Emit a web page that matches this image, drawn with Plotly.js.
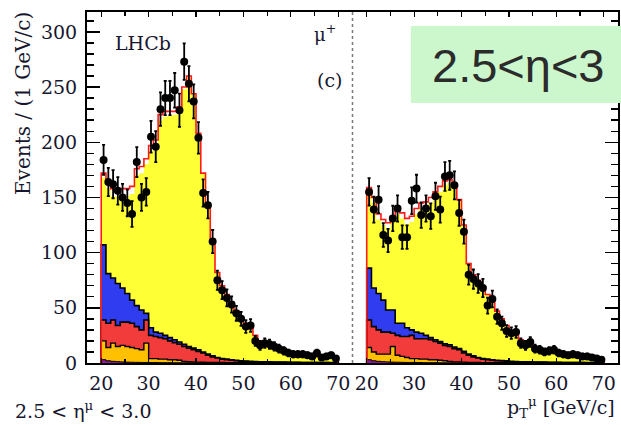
<!DOCTYPE html>
<html><head><meta charset="utf-8">
<script src="https://cdn.plot.ly/plotly-3.0.1.min.js"></script>
<style>body{margin:0;background:#fff}#chart{width:621px;height:425px}</style>
</head><body><div id="chart"></div>
<script>
// bin lower edges (GeV/c), 1 GeV bins
const binLow = [20,21,22,23,24,25,26,27,28,29,30,31,32,33,34,35,36,37,38,39,40,41,42,43,44,45,46,47,48,49,50,51,52,53,54,55,56,57,58,59,60,61,62,63,64,65,66,67,68,69];
const xTickVals = [20,30,40,50,60,70];
const xTickText = ['20','30','40','50','60','70'];

// ---- left panel (first pT panel) ----
const leftData = [184,164,162,156,150,145,135,182,150,155,205,196,230,240,240,247,229,273,253,237,204,154,143,110,75,66,59,53,45,40,33,34,20,16,18,17,15,13,11,9,8,8,8,7,6,9,5,6,7,4];
const leftTotal = [172,165,158,158,158,158,160,176,178,185,197,202,225,228,228,228,232,250,260,244,208,172,145,112,82,70,62,55,47,41,36,31,25,20,17,15,13,12,11,10,9,8,7.5,7,6.5,6,5.5,5,4.5,4];
const leftYellowTop = [168,158,151,151,151,151,153,170,172,180,192,197,220,223,224,225,229,248,258,243,208,172,145,112,82,70,62,55,47,41,36,31,25,20,17,15,13,12,11,10,9,8,7.5,7,6.5,6,5.5,5,4.5,4];
const leftBlueTop = [107,81,77,72,68,63,57,52,48,45,32,28,27,25,23,21,19,17,15,13.5,12,10,8,6.5,5,4,3.5,3,2.5,2,1.8,1.5,1.3,1.2,1,1,0.9,0.8,0.8,0.7,0.6,0.6,0.5,0.5,0.5,0.4,0.4,0.4,0.3,0.3];
const leftRedTop = [39,36,39,34,37,37,36,33,30,39,25,24,23,22,20,18.5,17,15,13.5,12,10.5,9,7,5.5,4.5,3.5,3,2.5,2,1.6,1.4,1.2,1.1,1,0.9,0.8,0.7,0.7,0.6,0.6,0.5,0.5,0.4,0.4,0.4,0.3,0.3,0.3,0.2,0.2];
const leftOrangeTop = [20,14,18,15,16,15,14,13,12,18,4,4,3.5,3.5,3,3,2.5,1.5,1.2,1,0.8,0.7,0.6,0.5,0.4,0.4,0.3,0.3,0.2,0.2,0.2,0.2,0.2,0.2,0.2,0.2,0.2,0.1,0.1,0.1,0.1,0.1,0.1,0.1,0.1,0.1,0.1,0.1,0.1,0.1];
const leftPurpleTop = [3,2,1.5,1.2,1,0.8,0.7,0.6,0.5,0.5,0.4,0.4,0.3,0.3,0.3,0.2,0.2,0.2,0.2,0.2,0.1,0.1,0.1,0.1,0.1,0.1,0.1,0.1,0.1,0.1,0.1,0.1,0.1,0.1,0.1,0.1,0.1,0.1,0.1,0.1,0.1,0.1,0.1,0.1,0.1,0.1,0.1,0.1,0.1,0.1];

// ---- right panel (second pT panel) ----
const rightData = [155,139,148,116,111,131,140,114,114,147,158,134,140,133,151,139,169,170,161,136,119,80,76,72,68,52,58,42,36,29,27,28,18,16,19,13,12,10,11,12,9,8,7,8,7,6,6,5,4,3];
const rightTotal = [159,150,135,130,127,133,140,136,131,133,140,145,146,150,155,160,165,166,160,148,125,90,80,75,69,62,55,47,40,34,29,25,21,18,16,14,12.5,11,10,9,8.5,8,7.5,7,6.5,6,5,4.5,4,3];
const rightYellowTop = [156,145,130,125,122,128,135,131,126,128,135,140,141,145,150,155,161,163,158,147,125,90,80,75,69,62,55,47,40,34,29,25,21,18,16,14,12.5,11,10,9,8.5,8,7.5,7,6.5,6,5,4.5,4,3];
const rightBlueTop = [86,68,63,57,48,48,36,36,32,30,28,27,25,23,21,19.5,17.5,16.5,14.5,13,10.5,8,6.5,5,4,3.5,3,2.5,2.2,2,1.6,1.4,1.2,1.1,1,0.9,0.8,0.8,0.7,0.6,0.6,0.5,0.5,0.5,0.4,0.4,0.4,0.3,0.3,0.3];
const rightRedTop = [39,33,30,28,28,27,25,24,24,25,22,22,22,21,19.5,18,16,15,13,12,9,7,5.5,4.5,3.5,3,2.5,2,1.8,1.5,1.2,1.1,1,0.9,0.8,0.7,0.6,0.6,0.5,0.5,0.4,0.4,0.4,0.3,0.3,0.3,0.2,0.2,0.2,0.2];
const rightOrangeTop = [14,10,8,8,8,15,7,6,5,4,4,3.5,3.5,3,3,2.5,2,1.5,1,1,0.8,0.6,0.5,0.4,0.3,0.2,0.2,0.2,0.2,0.2,0.2,0.2,0.2,0.1,0.1,0.1,0.1,0.1,0.1,0.1,0.1,0.1,0.1,0.1,0.1,0.1,0.1,0.1,0.1,0.1];
const rightPurpleTop = [3,2,1.5,1.2,1,0.8,0.7,0.6,0.5,0.5,0.4,0.4,0.3,0.3,0.3,0.2,0.2,0.2,0.2,0.2,0.1,0.1,0.1,0.1,0.1,0.1,0.1,0.1,0.1,0.1,0.1,0.1,0.1,0.1,0.1,0.1,0.1,0.1,0.1,0.1,0.1,0.1,0.1,0.1,0.1,0.1,0.1,0.1,0.1,0.1];

const COL = {yellow:'#ffff36', blue:'#2f3cf0', red:'#f23c3c', orange:'#ffc000', purple:'#8a1a9a', total:'#ff1a1a'};

function stepXY(levels){
  const last = binLow[binLow.length-1] + 1;
  return {x:[binLow[0]].concat(binLow,[last,last]), y:[0].concat(levels,[levels[levels.length-1],0])};
}
function fillTrace(levels, color, lineColor, lw, xa, ya){
  const s = stepXY(levels);
  return {type:'scatter', mode:'lines', x:s.x, y:s.y, xaxis:xa, yaxis:ya, fill:'tozeroy', fillcolor:color,
    line:{shape:'hv', color:lineColor, width:lw}, hoverinfo:'skip', showlegend:false};
}
function panel(d, xa, ya){
  const t = [];
  t.push(fillTrace(d.total, '#ffffff', COL.total, 0, xa, ya));
  t.push(fillTrace(d.yellow, COL.yellow, COL.yellow, 0, xa, ya));
  t.push(fillTrace(d.blue, COL.blue, '#000', 1.6, xa, ya));
  t.push(fillTrace(d.red, COL.red, '#000', 1.6, xa, ya));
  t.push(fillTrace(d.orange, COL.orange, '#000', 1.4, xa, ya));
  t.push(fillTrace(d.purple, COL.purple, '#000', 1, xa, ya));
  const s = stepXY(d.total);
  t.push({type:'scatter', mode:'lines', x:s.x, y:s.y, xaxis:xa, yaxis:ya, line:{shape:'hv', color:COL.total, width:1.6}, hoverinfo:'skip', showlegend:false});
  t.push({type:'scatter', mode:'markers', x:binLow.map(v=>v+0.5), y:d.data, xaxis:xa, yaxis:ya,
    marker:{color:'#000', size:8}, error_y:{type:'sqrt', visible:true, color:'#000', thickness:1.8, width:1.5}, showlegend:false});
  return t;
}
const traces = panel({data:leftData,total:leftTotal,yellow:leftYellowTop,blue:leftBlueTop,red:leftRedTop,orange:leftOrangeTop,purple:leftPurpleTop},'x','y')
  .concat(panel({data:rightData,total:rightTotal,yellow:rightYellowTop,blue:rightBlueTop,red:rightRedTop,orange:rightOrangeTop,purple:rightPurpleTop},'x2','y2'));

const txt = '#16162e';
const tickFont = {family:'DejaVu Serif', size:19, color:txt};
const xBase = {range:[17,73], tickvals:xTickVals, ticktext:xTickText, ticks:'inside', ticklen:5, tickwidth:1.2, tickcolor:'#000',
  minor:{dtick:5, tick0:0, ticks:'inside', ticklen:4, tickcolor:'#000'},
  showline:true, linecolor:'#000', linewidth:2, mirror:'ticks', showgrid:false, zeroline:false, tickfont:tickFont, ticklabelstandoff:2, fixedrange:true};
const yBase = {range:[0,318], dtick:50, tick0:0, ticks:'inside', ticklen:13, tickwidth:1.4, tickcolor:'#000',
  minor:{dtick:10, tick0:0, ticks:'inside', ticklen:7, tickcolor:'#000'},
  showline:true, linecolor:'#000', linewidth:2, showgrid:false, zeroline:false, tickfont:tickFont, fixedrange:true};

const layout = {
  width:621, height:425, margin:{l:87, r:3, t:12, b:62}, paper_bgcolor:'#fff', plot_bgcolor:'#fff', showlegend:false,
  xaxis:Object.assign({}, xBase, {domain:[0,0.5], anchor:'y'}),
  xaxis2:Object.assign({}, xBase, {domain:[0.5,1], anchor:'y2'}),
  yaxis:Object.assign({}, yBase, {anchor:'x', side:'left', ticklabelstandoff:4}),
  yaxis2:Object.assign({}, yBase, {anchor:'x2', side:'right', showticklabels:false}),
  shapes:[
    {type:'line', xref:'paper', yref:'paper', x0:0.5, x1:0.5, y0:0, y1:1, line:{color:'#7a7a7a', width:1.5, dash:'dot'}},
    {type:'rect', xref:'paper', yref:'paper', x0:0.610, x1:1.01, y0:0.741, y1:0.960, fillcolor:'#ccf6cc', line:{width:0}, layer:'above'}
  ],
  annotations:[
    {xref:'paper', yref:'paper', x:-0.1205, y:0.738, text:'Events / (1 GeV/c)', textangle:-90, showarrow:false, xanchor:'center', yanchor:'middle', font:{family:'DejaVu Serif', size:20, color:txt}},
    {xref:'paper', yref:'paper', x:0.1055, y:0.912, text:'LHCb', showarrow:false, xanchor:'center', yanchor:'middle', font:{family:'DejaVu Serif', size:19, color:txt}},
    {xref:'paper', yref:'paper', x:0.448, y:0.940, text:'μ<sup>+</sup>', showarrow:false, xanchor:'center', yanchor:'middle', font:{family:'DejaVu Serif', size:18, color:txt}},
    {xref:'paper', yref:'paper', x:0.456, y:0.806, text:'(c)', showarrow:false, xanchor:'center', yanchor:'middle', font:{family:'DejaVu Serif', size:19, color:txt}},
    {xref:'paper', yref:'paper', x:-0.1394, y:-0.134, text:'2.5 &lt; η<sup>μ</sup> &lt; 3.0', showarrow:false, xanchor:'left', yanchor:'middle', font:{family:'DejaVu Serif', size:19, color:txt}},
    {xref:'paper', yref:'paper', x:0.998, y:-0.128, text:'p<sub>T</sub><sup>μ</sup> [GeV/c]', showarrow:false, xanchor:'right', yanchor:'middle', font:{family:'DejaVu Serif', size:19, color:txt}},
    {xref:'paper', yref:'paper', x:0.812, y:0.849, text:'2.5<η<3', showarrow:false, xanchor:'center', yanchor:'middle', font:{family:'Liberation Sans', size:47, color:'#2b2b2b'}}
  ]
};
Plotly.newPlot('chart', traces, layout, {staticPlot:true, displayModeBar:false});
</script></body></html>
